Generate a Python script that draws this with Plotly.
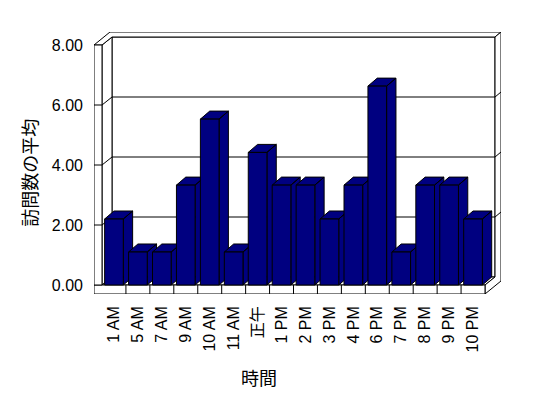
import plotly.graph_objects as go

# ---------------- data ----------------
categories = ["1 AM", "5 AM", "7 AM", "9 AM", "10 AM", "11 AM", "正午", "1 PM",
              "2 PM", "3 PM", "4 PM", "6 PM", "7 PM", "8 PM", "9 PM", "10 PM"]
values = [2.2, 1.1, 1.1, 3.33, 5.53, 1.1, 4.42, 3.33,
          3.33, 2.2, 3.33, 6.63, 1.1, 3.33, 3.33, 2.2]
y_tick_values = [0, 2, 4, 6, 8]
y_tick_labels = ["0.00", "2.00", "4.00", "6.00", "8.00"]
y_title = "訪問数の平均"
x_title = "時間"

# ---------------- 3D-look geometry (data units) ----------------
N = len(categories)
X0, X1 = -0.5, N - 0.5          # front category span
YMAX = 8.0
WALL = 0.334                    # left wall front thickness
FLOOR = 0.3                     # floor front thickness
DX, DY = 0.418, 0.267           # depth front -> back wall
TX, TY = 0.25, 0.167            # back wall thickness
BW = 0.78                       # bar front width
BDX = 0.39                      # bar depth (x)

NAVY = "#000080"
LINE = dict(color="black", width=1)

fig = go.Figure()

# depth faces (side + top) of each bar, drawn left to right
for i, v in enumerate(values):
    xl, xr = i - BW / 2, i + BW / 2
    xs = [xr, xr, xr + BDX, xr + BDX, xr, None,
          xl, xr, xr + BDX, xl + BDX, xl]
    ys = [0, v, v + DY, DY, 0, None,
          v, v, v + DY, v + DY, v]
    fig.add_trace(go.Scatter(x=xs, y=ys, mode="lines", fill="toself",
                             fillcolor=NAVY, line=LINE, hoverinfo="skip",
                             showlegend=False, xaxis="x", yaxis="y"))

# front faces as real bars on an overlaying axis pair (drawn above)
fig.add_trace(go.Bar(x=list(range(N)), y=values, width=BW,
                     marker=dict(color=NAVY, line=LINE),
                     hoverinfo="skip", showlegend=False,
                     xaxis="x2", yaxis="y2"))

# ---------------- walls / floor shapes ----------------
def poly(pts):
    d = "M " + " L ".join(f"{x},{y}" for x, y in pts) + " Z"
    return dict(type="path", path=d, xref="x", yref="y", layer="below",
                fillcolor="white", line=LINE)

def seg(pts):
    d = "M " + " L ".join(f"{x},{y}" for x, y in pts)
    return dict(type="path", path=d, xref="x", yref="y", layer="below",
                line=LINE)

shapes = []
shapes.append(poly([(X0 + DX, DY), (X1 + DX, DY), (X1 + DX, YMAX + DY), (X0 + DX, YMAX + DY)]))
shapes.append(poly([(X0, 0), (X0, YMAX), (X0 + DX, YMAX + DY), (X0 + DX, DY)]))
shapes.append(poly([(X0, 0), (X1, 0), (X1 + DX, DY), (X0 + DX, DY)]))
shapes.append(poly([(X0 - WALL, YMAX), (X0, YMAX), (X0 + DX, YMAX + DY), (X1 + DX, YMAX + DY),
                    (X1 + DX + TX, YMAX + DY + TY), (X0 - WALL + DX + TX, YMAX + DY + TY)]))
shapes.append(poly([(X1, -FLOOR), (X1, 0), (X1 + DX, DY), (X1 + DX, YMAX + DY),
                    (X1 + DX + TX, YMAX + DY + TY), (X1 + DX + TX, -FLOOR + DY + TY)]))
shapes.append(poly([(X0 - WALL, -FLOOR), (X1, -FLOOR), (X1, 0), (X0 - WALL, 0)]))
shapes.append(poly([(X0 - WALL, 0), (X0, 0), (X0, YMAX), (X0 - WALL, YMAX)]))
for v in y_tick_values[1:-1]:
    shapes.append(seg([(X0 - WALL, v), (X0, v), (X0 + DX, v + DY), (X1 + DX, v + DY),
                       (X1 + DX + TX, v + DY + TY)]))
for i in range(N - 1):
    shapes.append(seg([(i + 0.5, -FLOOR), (i + 0.5, 0)]))

XR = [X0 - WALL, X1 + DX + TX]
YR = [-FLOOR, YMAX + DY + TY]

TICKFONT = dict(family="Liberation Sans, Noto Sans CJK JP", size=16, color="black")
TITLEFONT = dict(family="Noto Sans CJK JP", size=18, color="black")

# page body adds an 8px margin, so the figure is 8px smaller and shifted
fig.update_layout(
    width=540, height=390,
    margin=dict(l=86, r=47, t=24, b=104),
    paper_bgcolor="white", plot_bgcolor="white",
    showlegend=False,
    shapes=shapes,
    xaxis=dict(range=XR, tickvals=list(range(N)), ticktext=categories,
               tickangle=-90, showgrid=False, zeroline=False, showline=False,
               ticks="", tickfont=TICKFONT, ticklabelstandoff=8, fixedrange=True),
    yaxis=dict(range=YR, tickvals=y_tick_values, ticktext=y_tick_labels,
               showgrid=False, zeroline=False, showline=False, ticks="",
               tickfont=TICKFONT, ticklabelstandoff=10, fixedrange=True),
    xaxis2=dict(range=XR, overlaying="x", visible=False, fixedrange=True),
    yaxis2=dict(range=YR, overlaying="y", visible=False, fixedrange=True),
    annotations=[
        dict(text=y_title, xref="paper", yref="paper", x=(28.7 - 94) / 407, y=(294 - 173) / 262,
             textangle=-90, showarrow=False, font=TITLEFONT, xanchor="center", yanchor="middle"),
        dict(text=x_title, xref="paper", yref="paper", x=(258.7 - 94) / 407, y=(294 - 377) / 262,
             showarrow=False, font=TITLEFONT, xanchor="center", yanchor="middle"),
    ],
)

fig.write_html("out.html")
